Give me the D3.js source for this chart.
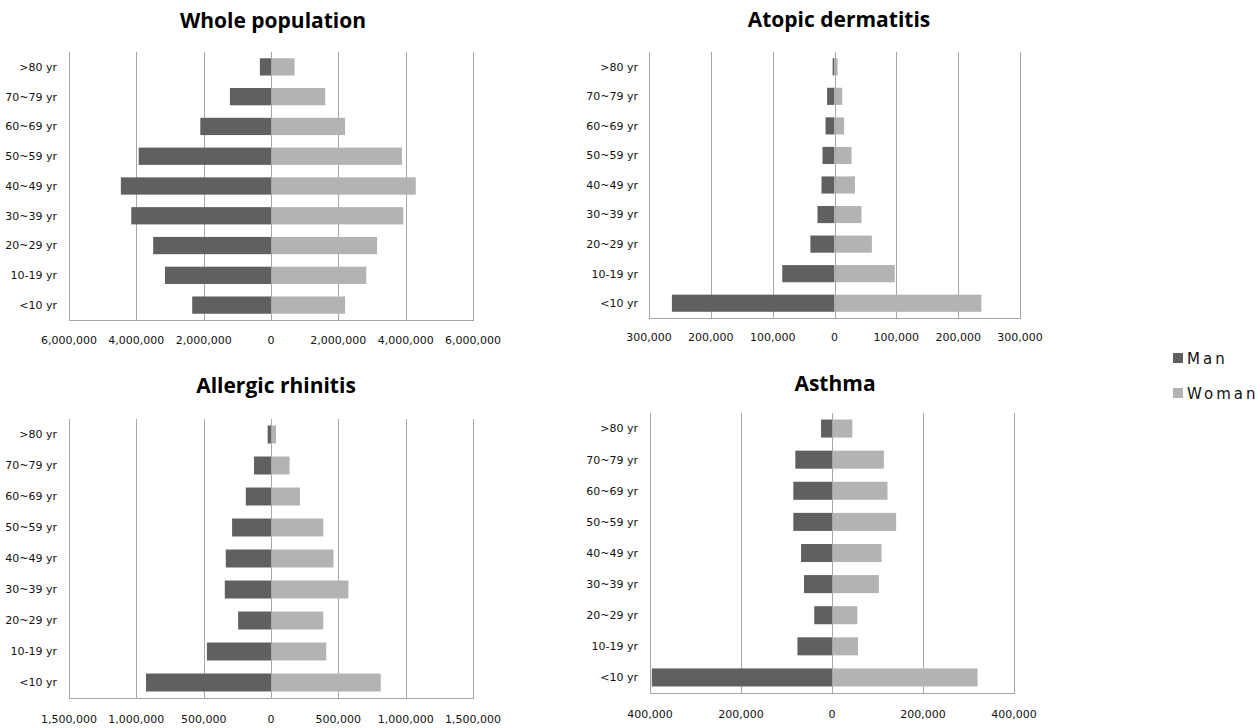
<!DOCTYPE html>
<html>
<head>
<meta charset="utf-8">
<script src="https://cdn.jsdelivr.net/npm/d3@7"></script>
<style>
  html, body { margin: 0; padding: 0; background: #fff; }
  svg { display: block; }
</style>
</head>
<body>
<svg id="chart" width="1260" height="728"></svg>
<script>
// Age groups, bottom to top
const ageGroups = ["<10 yr", "10-19 yr", "20~29 yr", "30~39 yr", "40~49 yr", "50~59 yr", "60~69 yr", "70~79 yr", ">80 yr"];

const seriesNames = ["Man", "Woman"];

// Whole population
const wholeMan   = [2340000, 3150000, 3500000, 4150000, 4460000, 3930000, 2100000, 1220000, 330000];
const wholeWoman = [2200000, 2830000, 3150000, 3930000, 4300000, 3890000, 2200000, 1610000, 700000];
const wholeTicks = [-6000000, -4000000, -2000000, 0, 2000000, 4000000, 6000000];

// Atopic dermatitis
const adMan   = [263000, 84500, 39000, 27500, 21000, 19400, 14500, 12000, 3000];
const adWoman = [237500, 97500, 60400, 43600, 33000, 27500, 15600, 12400, 5000];
const adTicks = [-300000, -200000, -100000, 0, 100000, 200000, 300000];

// Allergic rhinitis
const arMan   = [928000, 476000, 244000, 343000, 336000, 289000, 187000, 126000, 25000];
const arWoman = [815000, 410000, 388000, 575000, 464000, 388000, 215000, 138000, 37000];
const arTicks = [-1500000, -1000000, -500000, 0, 500000, 1000000, 1500000];

// Asthma
const asMan   = [396000, 76000, 39000, 61500, 68000, 85000, 85000, 80600, 24000];
const asWoman = [320000, 57000, 55700, 103000, 109000, 141000, 122000, 114000, 44700];
const asTicks = [-400000, -200000, 0, 200000, 400000];

const panels = [
  { title: "Whole population",  man: wholeMan, woman: wholeWoman, ticks: wholeTicks,
    left: 69, right: 473, top: 52, bottom: 320, tickY: 344, titleX: 273, titleY: 28, labelX: 57 },
  { title: "Atopic dermatitis", man: adMan, woman: adWoman, ticks: adTicks,
    left: 649, right: 1020, top: 52, bottom: 318, tickY: 341, titleX: 839, titleY: 27, labelX: 638 },
  { title: "Allergic rhinitis", man: arMan, woman: arWoman, ticks: arTicks,
    left: 69, right: 473, top: 419, bottom: 698, tickY: 723, titleX: 276, titleY: 393, labelX: 57 },
  { title: "Asthma",            man: asMan, woman: asWoman, ticks: asTicks,
    left: 650, right: 1014, top: 413, bottom: 693, tickY: 718, titleX: 835, titleY: 391, labelX: 638 }
];

const colors = { Man: "#606060", Woman: "#b3b3b3" };
const gridColor = "#a6a6a6";
const fmt = d3.format(",");

const svg = d3.select("#chart");

panels.forEach(p => {
  const g = svg.append("g");
  const maxV = d3.max(p.ticks);
  const x = d3.scaleLinear().domain([-maxV, maxV]).range([p.left, p.right]);
  const y = d3.scaleBand().domain(ageGroups.slice().reverse()).range([p.top, p.bottom]).paddingInner(0.42).paddingOuter(0.21);

  // gridlines
  g.selectAll("line.grid").data(p.ticks).enter().append("line")
    .attr("x1", d => Math.round(x(d)) + 0.5).attr("x2", d => Math.round(x(d)) + 0.5)
    .attr("y1", p.top).attr("y2", p.bottom)
    .attr("stroke", gridColor).attr("stroke-width", 1);

  // bottom axis line
  g.append("line")
    .attr("x1", p.left).attr("x2", p.right + 1)
    .attr("y1", Math.round(p.bottom) + 0.5).attr("y2", Math.round(p.bottom) + 0.5)
    .attr("stroke", gridColor).attr("stroke-width", 1);

  // bars
  const rows = ageGroups.map((a, i) => ({ age: a, man: p.man[i], woman: p.woman[i] }));
  g.selectAll("rect.man").data(rows).enter().append("rect")
    .attr("x", d => x(-d.man)).attr("width", d => x(0) - x(-d.man))
    .attr("y", d => y(d.age)).attr("height", y.bandwidth())
    .attr("fill", colors.Man);
  g.selectAll("rect.woman").data(rows).enter().append("rect")
    .attr("x", x(0)).attr("width", d => x(d.woman) - x(0))
    .attr("y", d => y(d.age)).attr("height", y.bandwidth())
    .attr("fill", colors.Woman);

  // zero line on top
  g.append("line")
    .attr("x1", Math.round(x(0)) + 0.5).attr("x2", Math.round(x(0)) + 0.5)
    .attr("y1", p.top).attr("y2", p.bottom)
    .attr("stroke", gridColor).attr("stroke-width", 1);

  // category labels
  g.selectAll("text.cat").data(ageGroups).enter().append("text")
    .attr("x", p.labelX).attr("y", d => y(d) + y.bandwidth() / 2)
    .attr("dy", "0.35em").attr("text-anchor", "end")
    .attr("font-family", "DejaVu Sans").attr("font-size", 11).attr("fill", "#111")
    .text(d => d);

  // tick labels
  g.selectAll("text.tick").data(p.ticks).enter().append("text")
    .attr("x", d => x(d)).attr("y", p.tickY)
    .attr("text-anchor", "middle")
    .attr("font-family", "DejaVu Sans").attr("font-size", 11).attr("fill", "#111")
    .text(d => fmt(Math.abs(d)));

  // title
  g.append("text")
    .attr("x", p.titleX).attr("y", p.titleY)
    .attr("text-anchor", "middle")
    .attr("font-family", "Open Sans").attr("font-weight", "bold").attr("font-size", 21)
    .attr("fill", "#000")
    .text(p.title);
});

// legend
const legend = svg.append("g");
seriesNames.forEach((s, i) => {
  legend.append("rect").attr("x", 1173).attr("y", 353 + i * 35).attr("width", 10).attr("height", 10).attr("fill", colors[s]);
  legend.append("text").attr("x", 1187).attr("y", 364 + i * 35)
    .attr("font-family", "DejaVu Sans").attr("font-size", 15).attr("letter-spacing", 3).attr("fill", "#111")
    .text(s);
});
</script>
</body>
</html>
